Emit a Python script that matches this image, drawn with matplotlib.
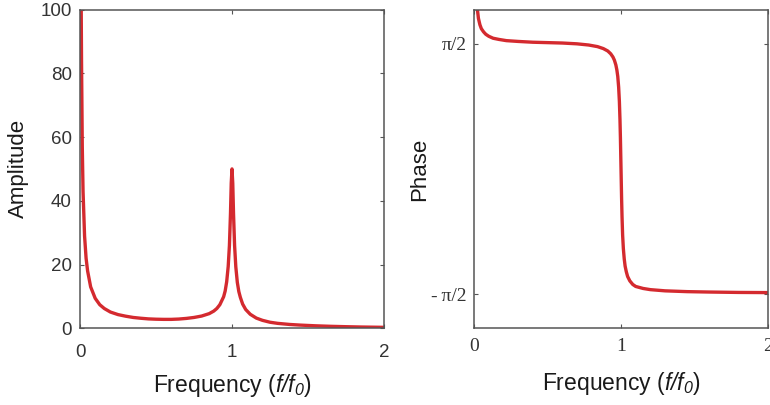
import numpy as np
import matplotlib
matplotlib.use('Agg')
import matplotlib.pyplot as plt

# Colours / styling
LINE_COLOUR = '#d42a2f'
SPINE_COLOUR = '#555555'
TICK_TEXT_COLOUR = '#333333'
LABEL_COLOUR = '#1a1a1a'

# Amplitude response
amp_freq = [0.008, 0.01, 0.015, 0.02, 0.03, 0.04, 0.05, 0.07, 0.1, 0.13, 0.16, 0.2,
            0.25, 0.3, 0.35, 0.4, 0.45, 0.5, 0.55, 0.6, 0.65, 0.7, 0.75, 0.8, 0.85,
            0.88, 0.9, 0.92, 0.945, 0.955, 0.965, 0.975, 0.983, 0.99, 0.995, 1.0,
            1.005, 1.01, 1.017, 1.025, 1.035, 1.045, 1.055, 1.07, 1.09, 1.12, 1.16,
            1.2, 1.25, 1.3, 1.38, 1.45, 1.55, 1.65, 1.75, 1.85, 2.0]
amp_vals = [100, 84, 57, 43, 29, 22, 18, 13, 9.4, 7.4, 6.2, 5.1,
            4.3, 3.8, 3.4, 3.15, 2.95, 2.85, 2.8, 2.8, 2.9, 3.1, 3.4, 3.84, 4.6,
            5.4, 6.2, 7.4, 9.9, 11.7, 14.6, 19.4, 26, 36, 45.6, 50,
            45.5, 36, 26, 19.3, 14.4, 11.5, 9.7, 7.6, 5.9, 4.4, 3.2,
            2.5, 1.9, 1.55, 1.2, 1.0, 0.78, 0.62, 0.5, 0.4, 0.3]

# Phase response
phase_freq = [0.015, 0.02, 0.03, 0.04, 0.05, 0.065, 0.08, 0.1, 0.13, 0.17, 0.22, 0.3,
              0.4, 0.5, 0.6, 0.7, 0.78, 0.84, 0.88, 0.91, 0.93, 0.945, 0.955, 0.965,
              0.972, 0.978, 0.984, 0.989, 0.993, 0.996, 1.0, 1.004, 1.007, 1.011,
              1.016, 1.022, 1.028, 1.036, 1.045, 1.06, 1.08, 1.1, 1.15, 1.2, 1.3,
              1.45, 1.6, 1.8, 2.0]
phase_vals = [2.20, 2.05, 1.89, 1.81, 1.76, 1.72, 1.69, 1.665, 1.64, 1.625, 1.61, 1.60,
              1.59, 1.585, 1.58, 1.57, 1.555, 1.535, 1.51, 1.48, 1.445, 1.405, 1.365, 1.305,
              1.24, 1.16, 1.025, 0.845, 0.62, 0.39, 0.01, -0.37, -0.60, -0.83,
              -1.00, -1.13, -1.22, -1.29, -1.35, -1.405, -1.45, -1.475, -1.50, -1.515, -1.53,
              -1.54, -1.545, -1.55, -1.552]

freq_ticks = [0, 1, 2]
amp_ticks = [0, 20, 40, 60, 80, 100]
phase_ticks = [-np.pi / 2, np.pi / 2]
phase_tick_labels = ['-\u2009\u03c0/2', '\u03c0/2']

# only the axis labels use mathtext, so make it all italic sans
plt.rcParams['mathtext.fontset'] = 'custom'
plt.rcParams['mathtext.rm'] = 'Liberation Sans:italic'
plt.rcParams['mathtext.it'] = 'Liberation Sans:italic'

fig = plt.figure(figsize=(7.7, 4.05), dpi=100)
ax_amp = fig.add_axes([0.1039, 0.1894, 0.3948, 0.787])
ax_ph = fig.add_axes([0.6156, 0.1894, 0.3818, 0.787])

xlabel = r'Frequency ($f/f_0$)'

def style_axes(ax):
    for s in ax.spines.values():
        s.set_color(SPINE_COLOUR)
        s.set_linewidth(1.1)
    ax.tick_params(direction='in', length=3, width=0.8, color=SPINE_COLOUR,
                   top=True, right=True, labelcolor=TICK_TEXT_COLOUR)
    ax.set_xlim(0, 2)
    ax.set_xticks(freq_ticks)

# Amplitude panel
ax_amp.plot(amp_freq, amp_vals, color=LINE_COLOUR, linewidth=2.4, solid_joinstyle='round')
style_axes(ax_amp)
ax_amp.set_ylim(0, 100)
ax_amp.set_yticks(amp_ticks)
for lab in ax_amp.get_xticklabels() + ax_amp.get_yticklabels():
    lab.set_fontfamily('Liberation Sans')
    lab.set_fontsize(13.5)
ax_amp.tick_params(axis='x', pad=11)
ax_amp.tick_params(axis='y', pad=6)
ax_amp.set_xlabel(xlabel, fontsize=16.5, family='Liberation Sans', color=LABEL_COLOUR, labelpad=8)
ax_amp.set_ylabel('Amplitude', fontsize=16, family='Liberation Sans', color=LABEL_COLOUR, labelpad=8)

# Phase panel
ax_ph.plot(phase_freq, phase_vals, color=LINE_COLOUR, linewidth=2.4, solid_joinstyle='round')
style_axes(ax_ph)
ax_ph.set_ylim(-2, 2)
ax_ph.set_yticks(phase_ticks)
ax_ph.set_yticklabels(phase_tick_labels)
for lab in ax_ph.get_xticklabels() + ax_ph.get_yticklabels():
    lab.set_fontfamily(['Liberation Serif', 'DejaVu Serif'])
    lab.set_fontsize(14)
ax_ph.tick_params(axis='x', pad=7)
ax_ph.tick_params(axis='y', pad=5)
ax_ph.set_xlabel(xlabel, fontsize=16.5, family='Liberation Sans', color=LABEL_COLOUR, labelpad=11)
ax_ph.set_ylabel('Phase', fontsize=16, family='Liberation Sans', color=LABEL_COLOUR, labelpad=1)

fig.savefig('out.png', dpi=100, facecolor='white')
